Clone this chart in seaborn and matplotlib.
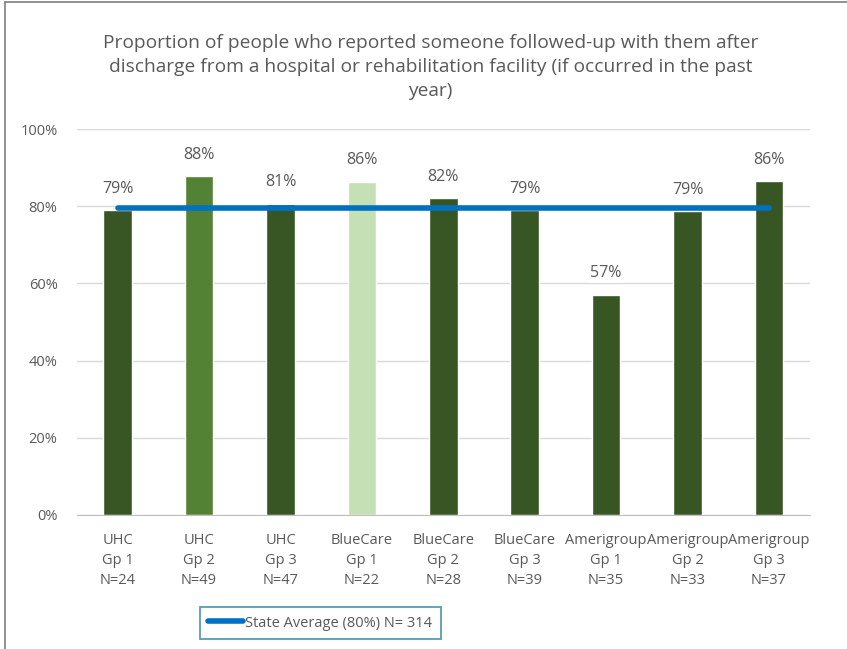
import matplotlib
matplotlib.use("Agg")
import matplotlib.pyplot as plt
import seaborn as sns
import pandas as pd
from matplotlib.lines import Line2D

plans = ["UHC", "UHC", "UHC", "BlueCare", "BlueCare", "BlueCare",
         "Amerigroup", "Amerigroup", "Amerigroup"]
groups = ["Gp 1", "Gp 2", "Gp 3", "Gp 1", "Gp 2", "Gp 3", "Gp 1", "Gp 2", "Gp 3"]
n_sizes = [24, 49, 47, 22, 28, 39, 35, 33, 37]
proportions = [0.79, 0.878, 0.806, 0.863, 0.82, 0.79, 0.57, 0.787, 0.865]
bar_colors = ["#375623", "#548235", "#375623", "#C5E0B4", "#375623",
              "#375623", "#375623", "#375623", "#375623"]
state_avg = 0.795
state_n = 314

labels = [f"{p}\n{g}\nN={n}" for p, g, n in zip(plans, groups, n_sizes)]
df = pd.DataFrame({"label": labels, "value": proportions})

sns.set_style("white")
plt.rcParams["font.family"] = ["Open Sans", "DejaVu Sans"]
text_color = "#595959"

fig = plt.figure(figsize=(8.47, 6.49), dpi=100)
ax = fig.add_axes([0.0909, 0.2065, 0.8650, 0.5947])

sns.barplot(data=df, x="label", y="value", hue="label", palette=bar_colors,
            legend=False, width=0.35, ax=ax, saturation=1, zorder=2)

x_pos = list(range(len(labels)))
ax.plot(x_pos, [state_avg] * len(x_pos), color="#0070C0", lw=4,
        solid_capstyle="round", zorder=4)

for i, v in enumerate(proportions):
    ax.text(i, v + 0.035, f"{round(v * 100)}%", ha="center", va="bottom",
            fontsize=11.5, color=text_color, zorder=5,
            bbox=dict(facecolor="white", edgecolor="none", pad=1))

ax.set_ylim(0, 1)
ax.set_xlim(-0.5, len(labels) - 0.5)
ax.set_yticks([0, 0.2, 0.4, 0.6, 0.8, 1.0])
ax.set_yticklabels(["0%", "20%", "40%", "60%", "80%", "100%"])
ax.yaxis.grid(True, color="#D9D9D9", lw=1, zorder=0)
ax.set_axisbelow(True)
for s in ["top", "right", "left"]:
    ax.spines[s].set_visible(False)
ax.spines["bottom"].set_color("#BFBFBF")
ax.tick_params(axis="both", length=0, colors=text_color, labelsize=10.5)
ax.tick_params(axis="x", pad=13)
ax.tick_params(axis="y", pad=14)
ax.set_xlabel("")
ax.set_ylabel("")
for t in ax.get_xticklabels():
    t.set_linespacing(1.45)

fig.text(0.508, 0.948,
         "Proportion of people who reported someone followed-up with them after\n"
         "discharge from a hospital or rehabilitation facility (if occurred in the past\n"
         "year)", ha="center", va="top", fontsize=13.8, color=text_color,
         linespacing=1.45)

handle = Line2D([0], [0], color="#0070C0", lw=4)
leg = fig.legend([handle], [f"State Average (80%) N= {state_n}"],
                 loc="center", bbox_to_anchor=(0.378, 0.04), frameon=True,
                 fancybox=False, fontsize=10.5, handlelength=2.4,
                 handletextpad=0.1, borderpad=0.6, borderaxespad=0,
                 labelcolor=text_color)
leg.get_frame().set_edgecolor("#31859C")
leg.get_frame().set_linewidth(1.3)

fig.add_artist(Line2D([0.006, 0.006], [0, 0.997], color="#7F7F7F", lw=1.2,
                      transform=fig.transFigure))
fig.add_artist(Line2D([0.006, 1], [0.997, 0.997], color="#7F7F7F", lw=1.2,
                      transform=fig.transFigure))

fig.savefig("out.png", dpi=100)
